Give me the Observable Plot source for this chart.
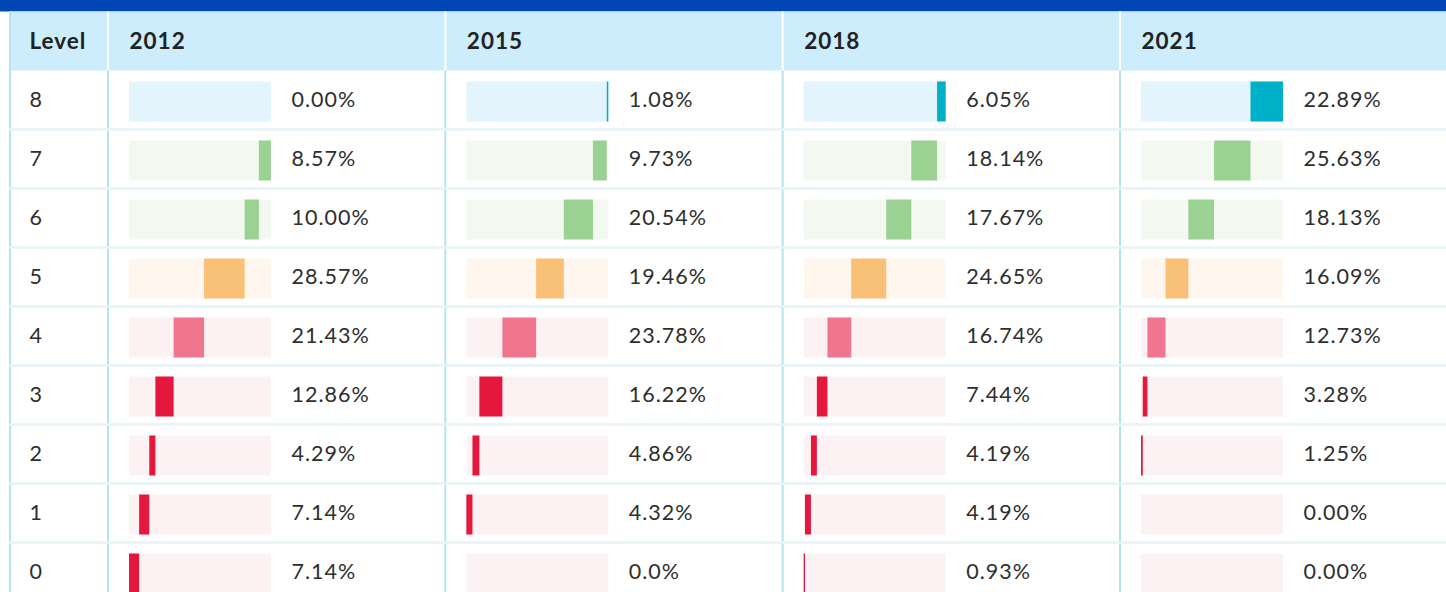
<!DOCTYPE html>
<html><head><meta charset="utf-8">
<script src="https://cdn.jsdelivr.net/npm/d3@7"></script>
<script src="https://cdn.jsdelivr.net/npm/@observablehq/plot@0.6"></script>
<style>
html,body{margin:0;padding:0;background:#fff;overflow:hidden;}
#chart svg{display:block;}
</style></head><body><div id="chart"></div>
<script>
const years = ["2012", "2015", "2018", "2021"];
const levels = ["8", "7", "6", "5", "4", "3", "2", "1", "0"];
const values2012 = [0.00, 8.57, 10.00, 28.57, 21.43, 12.86, 4.29, 7.14, 7.14];
const values2015 = [1.08, 9.73, 20.54, 19.46, 23.78, 16.22, 4.86, 4.32, 0.0];
const values2018 = [6.05, 18.14, 17.67, 24.65, 16.74, 7.44, 4.19, 4.19, 0.93];
const values2021 = [22.89, 25.63, 18.13, 16.09, 12.73, 3.28, 1.25, 0.00, 0.00];
const labels2012 = ["0.00%", "8.57%", "10.00%", "28.57%", "21.43%", "12.86%", "4.29%", "7.14%", "7.14%"];
const labels2015 = ["1.08%", "9.73%", "20.54%", "19.46%", "23.78%", "16.22%", "4.86%", "4.32%", "0.0%"];
const labels2018 = ["6.05%", "18.14%", "17.67%", "24.65%", "16.74%", "7.44%", "4.19%", "4.19%", "0.93%"];
const labels2021 = ["22.89%", "25.63%", "18.13%", "16.09%", "12.73%", "3.28%", "1.25%", "0.00%", "0.00%"];
const barColors = ["#00b0c9", "#9bd193", "#9bd193", "#f9c077", "#f0758f", "#e6173f", "#e6173f", "#e6173f", "#e6173f"];
const trackColors = ["#e3f4fc", "#f3f9f1", "#f3f9f1", "#fff6ee", "#fcf1f3", "#fcf1f3", "#fcf1f3", "#fcf1f3", "#fcf1f3"];

const series = {
  "2012": [values2012, labels2012],
  "2015": [values2015, labels2015],
  "2018": [values2018, labels2018],
  "2021": [values2021, labels2021]
};

const rows = [];
for (const year of years) {
  const [vals, labs] = series[year];
  let cum = 0;
  for (let i = levels.length - 1; i >= 0; --i) {
    rows.push({year, level: levels[i], start: cum, end: cum + vals[i], label: labs[i], bar: barColors[i], track: trackColors[i]});
    cum += vals[i];
  }
}

const W = 1446, H = 592;
const colStep = 337.33;
const chart = Plot.plot({
  width: W, height: H,
  marginTop: 11.5, marginBottom: 0, marginLeft: 108, marginRight: 0,
  style: {fontFamily: "Lato, 'Open Sans', sans-serif", overflow: "visible", background: "transparent", letterSpacing: "1px"},
  fx: {domain: years, range: [108, 108 + 4 * colStep], padding: 0, round: false, axis: null},
  x: {domain: [0, 100], range: [129, 271], axis: null},
  y: {domain: ["Level", ...levels], range: [11.5, 601.5], padding: 0, round: false, axis: null},
  color: {type: "identity"},
  marks: [
    Plot.barX(rows, {fx: "year", y: "level", x1: 0, x2: 100, fill: "track", insetTop: 11, insetBottom: 8}),
    Plot.barX(rows, {fx: "year", y: "level", x1: "start", x2: "end", fill: "bar", insetTop: 11, insetBottom: 8}),
    Plot.text(rows, {fx: "year", y: "level", x: 100, dx: 20, text: "label", textAnchor: "start", fontSize: 21.5, fill: "#2e2e2e"}),
    Plot.text(years, {fx: d => d, y: () => "Level", x: 0, text: d => d, textAnchor: "start", fontWeight: "bold", fontSize: 22.5, fill: "#222"}),
    Plot.axisY({ticks: levels, label: null, tickSize: 0, textAnchor: "start", dx: -70, fontSize: 21.5, fill: "#2e2e2e"}),
    Plot.axisY({ticks: ["Level"], label: null, tickSize: 0, textAnchor: "start", dx: -70, fontSize: 22.5, fontWeight: "bold", fill: "#222"})
  ]
});

// Table decoration, positioned with the chart's own scales
const fxS = chart.scale("fx");
const yS = chart.scale("y");
const svg = d3.select(chart);
const deco = svg.insert("g", ":first-child");
const yTop = yS.range[0];
const hdrBottom = yS.apply("Level") + yS.bandwidth;
const left = 9;
deco.append("rect").attr("x", 0).attr("y", 0).attr("width", W).attr("height", yTop).attr("fill", "#0047b5");
deco.append("rect").attr("x", left).attr("y", yTop).attr("width", W - left).attr("height", hdrBottom - yTop).attr("fill", "#cdedfc");
deco.append("rect").attr("x", left).attr("y", yTop).attr("width", W - left).attr("height", 1).attr("fill", "#b9e2f4");
// vertical separators
const colX = years.map(y => fxS.apply(y));
for (const x of colX) {
  deco.append("rect").attr("x", x - 1).attr("y", yTop).attr("width", 2).attr("height", hdrBottom - yTop).attr("fill", "#ffffff");
  deco.append("rect").attr("x", x - 1).attr("y", hdrBottom).attr("width", 2).attr("height", H - hdrBottom).attr("fill", "#b8e2ea");
}
deco.append("rect").attr("x", left).attr("y", yTop).attr("width", 2).attr("height", H - yTop).attr("fill", "#b8e2ea");
// row separators
for (const lv of levels) {
  const yb = yS.apply(lv) + yS.bandwidth;
  deco.append("rect").attr("x", left).attr("y", yb - 1.25).attr("width", W - left).attr("height", 2.5).attr("fill", "#e6f4f7");
}
document.getElementById("chart").append(chart);
</script>
</body></html>
